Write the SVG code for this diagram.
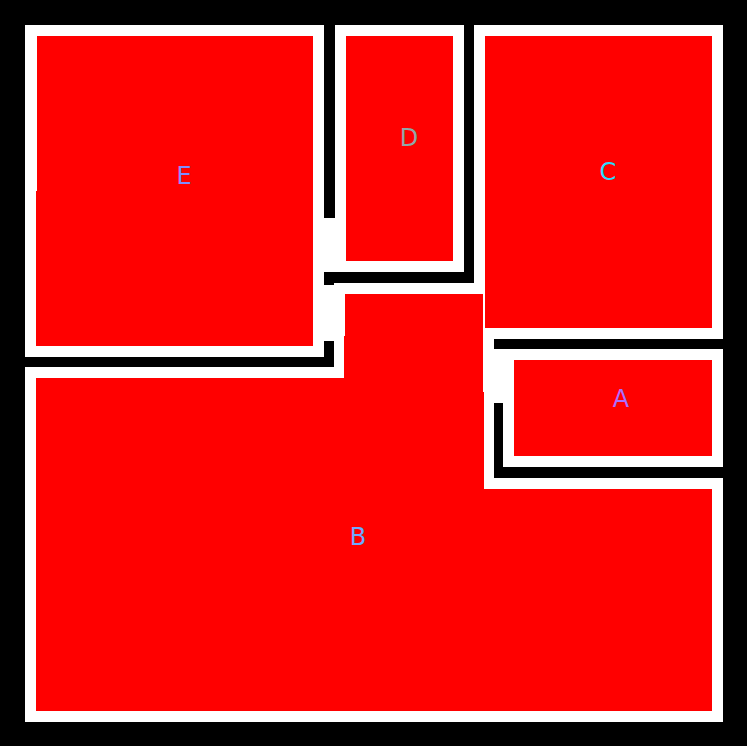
<svg xmlns="http://www.w3.org/2000/svg" width="747" height="746" viewBox="0 0 747 746">
<style>
.wall{fill:#000}
.room{fill:#ff0000}
.lbl{font-family:"DejaVu Sans","Liberation Sans",sans-serif;font-size:24px;text-anchor:middle}
</style>
<rect width="747" height="746" fill="#000"/>
<rect x="25" y="25" width="698" height="697" fill="#fff"/>
<g id="walls">
<rect class="wall" x="324" y="0" width="11" height="218"/>
<rect class="wall" x="464" y="0" width="10" height="283"/>
<rect class="wall" x="324" y="272" width="150" height="11"/>
<rect class="wall" x="324" y="272" width="10" height="13"/>
<rect class="wall" x="0" y="357" width="334" height="10"/>
<rect class="wall" x="324" y="341" width="10" height="26"/>
<rect class="wall" x="494" y="339" width="253" height="10"/>
<rect class="wall" x="494" y="403" width="9" height="75"/>
<rect class="wall" x="494" y="467" width="253" height="11"/>
</g>
<g id="E">
<path class="room" d="M37 36H313V346H36V191H37Z"/>
<text class="lbl" x="184" y="184" fill="#7f8cff">E</text>
</g>
<g id="D">
<rect class="room" x="346" y="36" width="107" height="225"/>
<text class="lbl" x="409" y="146" fill="#8fa8a8">D</text>
</g>
<g id="C">
<rect class="room" x="485" y="36" width="227" height="292"/>
<text class="lbl" x="608" y="180" fill="#28dcff">C</text>
</g>
<g id="A">
<rect class="room" x="514" y="360" width="198" height="96"/>
<text class="lbl" x="621" y="407" fill="#aa6eff">A</text>
</g>
<g id="B">
<path class="room" d="M345 294H483V392H484V489H712V711H36V378H344V336H345Z"/>
<text class="lbl" x="358" y="545" fill="#6eaaff">B</text>
</g>
</svg>
